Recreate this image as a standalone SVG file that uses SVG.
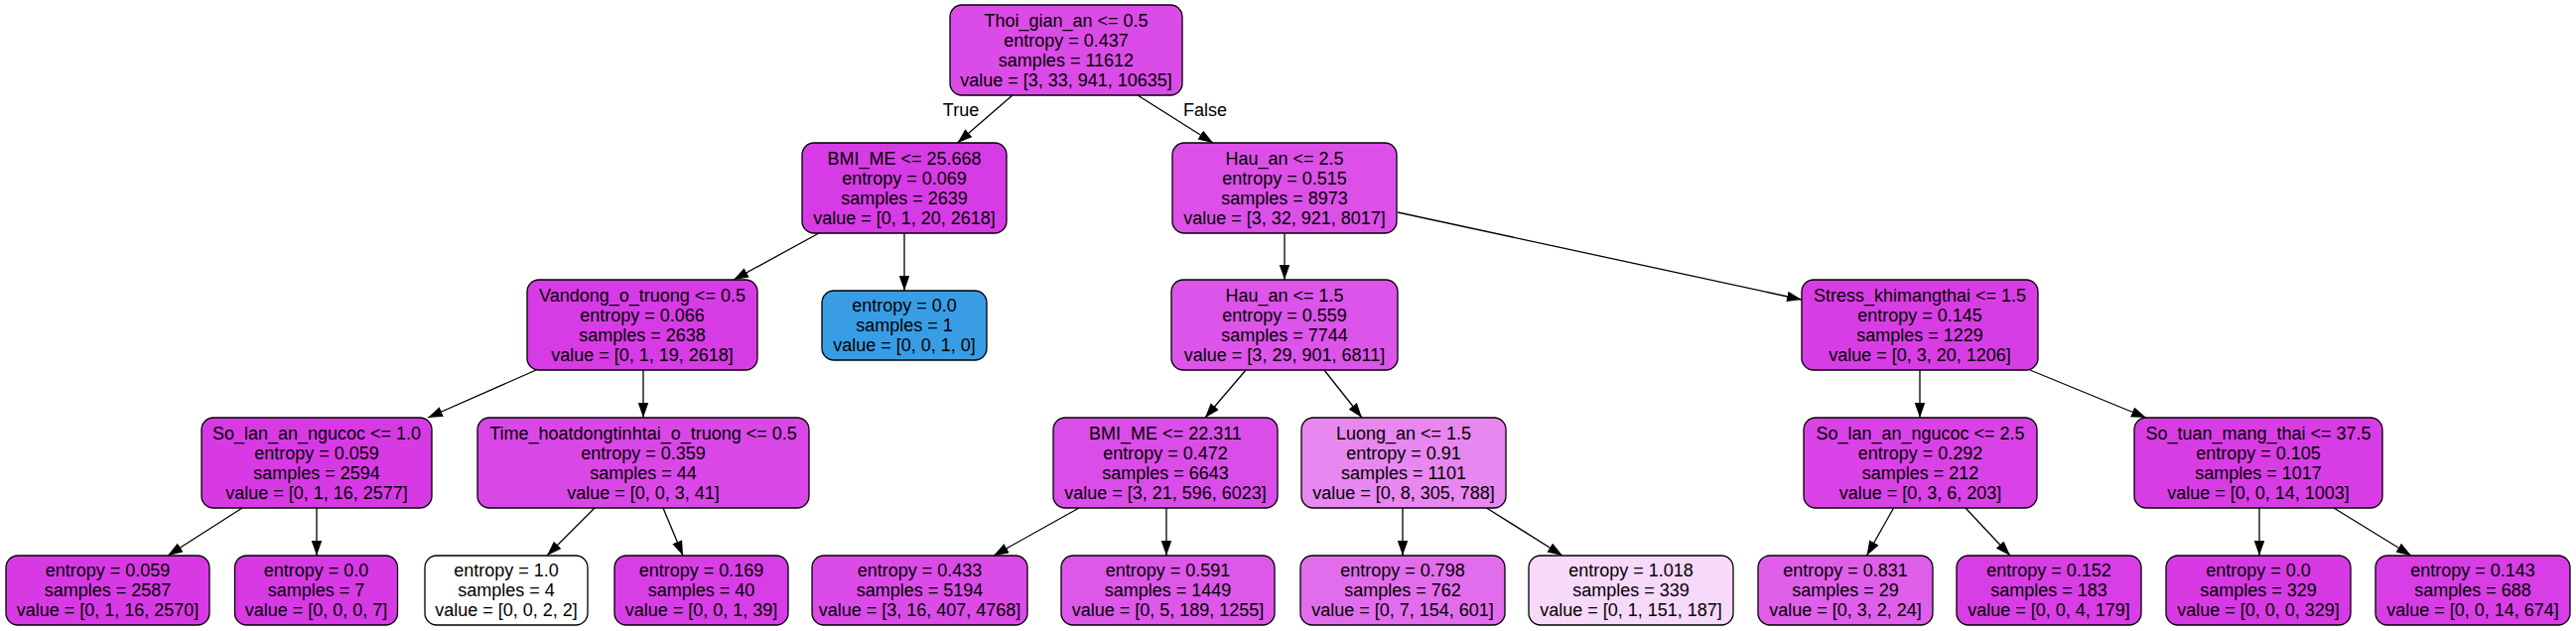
<svg xmlns="http://www.w3.org/2000/svg" width="2595" height="636" viewBox="0 0 2595 636">
<style>
.n rect{stroke:#000;stroke-width:1.3}
text{font-family:"Liberation Sans",Arial,Helvetica,sans-serif;font-size:18px;fill:#000;text-anchor:middle}
.e path{fill:none;stroke:#000;stroke-width:1.3;marker-end:url(#ah)}
</style>
<defs>
<marker id="ah" markerWidth="16" markerHeight="11" refX="15" refY="5.25" orient="auto" markerUnits="userSpaceOnUse"><path d="M0,0 L15,5.25 L0,10.5 z" fill="#000"/></marker>
</defs>
<rect width="2595" height="636" fill="#fff"/>
<g class="e" id="edges">
<path d="M1020,96 L964.5,144"/>
<path d="M1146,96 L1222,144"/>
<path d="M825,235 L739,282"/>
<path d="M911,235 L911,293"/>
<path d="M1294,235 L1294,282"/>
<path d="M1408,214 L1815,302"/>
<path d="M540,373 L431,421"/>
<path d="M648,373 L648,421"/>
<path d="M1255,373 L1214,421"/>
<path d="M1334,373 L1372,421"/>
<path d="M1934,373 L1934,421"/>
<path d="M2045,373 L2162,421"/>
<path d="M244,512 L169,560"/>
<path d="M319,512 L319,560"/>
<path d="M599,512 L551,560"/>
<path d="M668,512 L688,560"/>
<path d="M1087,512 L1001,560"/>
<path d="M1175,512 L1175,560"/>
<path d="M1413,512 L1413,560"/>
<path d="M1497.5,512 L1574,560"/>
<path d="M1907.6,512 L1880.5,560"/>
<path d="M1980,512 L2025,560"/>
<path d="M2276,512 L2276,560"/>
<path d="M2351,512 L2429,560"/>
<text x="968" y="116.5">True</text>
<text x="1214" y="116.5">False</text>
</g>
<g class="n" id="n0"><rect x="957" y="5" width="234" height="91" rx="12" fill="#db4be7"/>
<text x="1074" y="26.5">Thoi_gian_an &lt;= 0.5</text><text x="1074" y="46.5">entropy = 0.437</text><text x="1074" y="66.5">samples = 11612</text><text x="1074" y="86.5">value = [3, 33, 941, 10635]</text></g>
<g class="n" id="n1"><rect x="808" y="144" width="206" height="91" rx="12" fill="#d73be5"/>
<text x="911" y="165.5">BMI_ME &lt;= 25.668</text><text x="911" y="185.5">entropy = 0.069</text><text x="911" y="205.5">samples = 2639</text><text x="911" y="225.5">value = [0, 1, 20, 2618]</text></g>
<g class="n" id="n2"><rect x="1181" y="144" width="226" height="91" rx="12" fill="#dc50e8"/>
<text x="1294" y="165.5">Hau_an &lt;= 2.5</text><text x="1294" y="185.5">entropy = 0.515</text><text x="1294" y="205.5">samples = 8973</text><text x="1294" y="225.5">value = [3, 32, 921, 8017]</text></g>
<g class="n" id="n3"><rect x="531" y="282" width="232" height="91" rx="12" fill="#d73be5"/>
<text x="647" y="303.5">Vandong_o_truong &lt;= 0.5</text><text x="647" y="323.5">entropy = 0.066</text><text x="647" y="343.5">samples = 2638</text><text x="647" y="363.5">value = [0, 1, 19, 2618]</text></g>
<g class="n" id="n4"><rect x="828" y="293" width="166" height="70" rx="12" fill="#399de5"/>
<text x="911" y="313.5">entropy = 0.0</text><text x="911" y="333.5">samples = 1</text><text x="911" y="353.5">value = [0, 0, 1, 0]</text></g>
<g class="n" id="n5"><rect x="1180" y="282" width="228" height="91" rx="12" fill="#dc54e9"/>
<text x="1294" y="303.5">Hau_an &lt;= 1.5</text><text x="1294" y="323.5">entropy = 0.559</text><text x="1294" y="343.5">samples = 7744</text><text x="1294" y="363.5">value = [3, 29, 901, 6811]</text></g>
<g class="n" id="n6"><rect x="1815" y="282" width="238" height="91" rx="12" fill="#d83de5"/>
<text x="1934" y="303.5">Stress_khimangthai &lt;= 1.5</text><text x="1934" y="323.5">entropy = 0.145</text><text x="1934" y="343.5">samples = 1229</text><text x="1934" y="363.5">value = [0, 3, 20, 1206]</text></g>
<g class="n" id="n7"><rect x="203" y="421" width="232" height="91" rx="12" fill="#d73ae5"/>
<text x="319" y="442.5">So_lan_an_ngucoc &lt;= 1.0</text><text x="319" y="462.5">entropy = 0.059</text><text x="319" y="482.5">samples = 2594</text><text x="319" y="502.5">value = [0, 1, 16, 2577]</text></g>
<g class="n" id="n8"><rect x="481" y="421" width="334" height="91" rx="12" fill="#da47e7"/>
<text x="648" y="442.5">Time_hoatdongtinhtai_o_truong &lt;= 0.5</text><text x="648" y="462.5">entropy = 0.359</text><text x="648" y="482.5">samples = 44</text><text x="648" y="502.5">value = [0, 0, 3, 41]</text></g>
<g class="n" id="n9"><rect x="1061" y="421" width="226" height="91" rx="12" fill="#db4de8"/>
<text x="1174" y="442.5">BMI_ME &lt;= 22.311</text><text x="1174" y="462.5">entropy = 0.472</text><text x="1174" y="482.5">samples = 6643</text><text x="1174" y="502.5">value = [3, 21, 596, 6023]</text></g>
<g class="n" id="n10"><rect x="1311" y="421" width="206" height="91" rx="12" fill="#e787ef"/>
<text x="1414" y="442.5">Luong_an &lt;= 1.5</text><text x="1414" y="462.5">entropy = 0.91</text><text x="1414" y="482.5">samples = 1101</text><text x="1414" y="502.5">value = [0, 8, 305, 788]</text></g>
<g class="n" id="n11"><rect x="1817" y="421" width="235" height="91" rx="12" fill="#d942e6"/>
<text x="1934.5" y="442.5">So_lan_an_ngucoc &lt;= 2.5</text><text x="1934.5" y="462.5">entropy = 0.292</text><text x="1934.5" y="482.5">samples = 212</text><text x="1934.5" y="502.5">value = [0, 3, 6, 203]</text></g>
<g class="n" id="n12"><rect x="2150" y="421" width="250" height="91" rx="12" fill="#d83ce5"/>
<text x="2275" y="442.5">So_tuan_mang_thai &lt;= 37.5</text><text x="2275" y="462.5">entropy = 0.105</text><text x="2275" y="482.5">samples = 1017</text><text x="2275" y="502.5">value = [0, 0, 14, 1003]</text></g>
<g class="n" id="n13"><rect x="6" y="560" width="205" height="70" rx="12" fill="#d73ae5"/>
<text x="108.5" y="580.5">entropy = 0.059</text><text x="108.5" y="600.5">samples = 2587</text><text x="108.5" y="620.5">value = [0, 1, 16, 2570]</text></g>
<g class="n" id="n14"><rect x="236.5" y="560" width="164" height="70" rx="12" fill="#d739e5"/>
<text x="318.5" y="580.5">entropy = 0.0</text><text x="318.5" y="600.5">samples = 7</text><text x="318.5" y="620.5">value = [0, 0, 0, 7]</text></g>
<g class="n" id="n15"><rect x="428" y="560" width="164" height="70" rx="12" fill="#ffffff"/>
<text x="510" y="580.5">entropy = 1.0</text><text x="510" y="600.5">samples = 4</text><text x="510" y="620.5">value = [0, 0, 2, 2]</text></g>
<g class="n" id="n16"><rect x="619" y="560" width="175" height="70" rx="12" fill="#d83ee6"/>
<text x="706.5" y="580.5">entropy = 0.169</text><text x="706.5" y="600.5">samples = 40</text><text x="706.5" y="620.5">value = [0, 0, 1, 39]</text></g>
<g class="n" id="n17"><rect x="818" y="560" width="217" height="70" rx="12" fill="#db4be7"/>
<text x="926.5" y="580.5">entropy = 0.433</text><text x="926.5" y="600.5">samples = 5194</text><text x="926.5" y="620.5">value = [3, 16, 407, 4768]</text></g>
<g class="n" id="n18"><rect x="1069" y="560" width="215" height="70" rx="12" fill="#dd57e9"/>
<text x="1176.5" y="580.5">entropy = 0.591</text><text x="1176.5" y="600.5">samples = 1449</text><text x="1176.5" y="620.5">value = [0, 5, 189, 1255]</text></g>
<g class="n" id="n19"><rect x="1310" y="560" width="206" height="70" rx="12" fill="#e26dec"/>
<text x="1413" y="580.5">entropy = 0.798</text><text x="1413" y="600.5">samples = 762</text><text x="1413" y="620.5">value = [0, 7, 154, 601]</text></g>
<g class="n" id="n20"><rect x="1540" y="560" width="206" height="70" rx="12" fill="#f7d9fa"/>
<text x="1643" y="580.5">entropy = 1.018</text><text x="1643" y="600.5">samples = 339</text><text x="1643" y="620.5">value = [0, 1, 151, 187]</text></g>
<g class="n" id="n21"><rect x="1771" y="560" width="176" height="70" rx="12" fill="#df5fea"/>
<text x="1859" y="580.5">entropy = 0.831</text><text x="1859" y="600.5">samples = 29</text><text x="1859" y="620.5">value = [0, 3, 2, 24]</text></g>
<g class="n" id="n22"><rect x="1971" y="560" width="186" height="70" rx="12" fill="#d83de6"/>
<text x="2064" y="580.5">entropy = 0.152</text><text x="2064" y="600.5">samples = 183</text><text x="2064" y="620.5">value = [0, 0, 4, 179]</text></g>
<g class="n" id="n23"><rect x="2182" y="560" width="186" height="70" rx="12" fill="#d739e5"/>
<text x="2275" y="580.5">entropy = 0.0</text><text x="2275" y="600.5">samples = 329</text><text x="2275" y="620.5">value = [0, 0, 0, 329]</text></g>
<g class="n" id="n24"><rect x="2393" y="560" width="196" height="70" rx="12" fill="#d83de6"/>
<text x="2491" y="580.5">entropy = 0.143</text><text x="2491" y="600.5">samples = 688</text><text x="2491" y="620.5">value = [0, 0, 14, 674]</text></g>
</svg>
